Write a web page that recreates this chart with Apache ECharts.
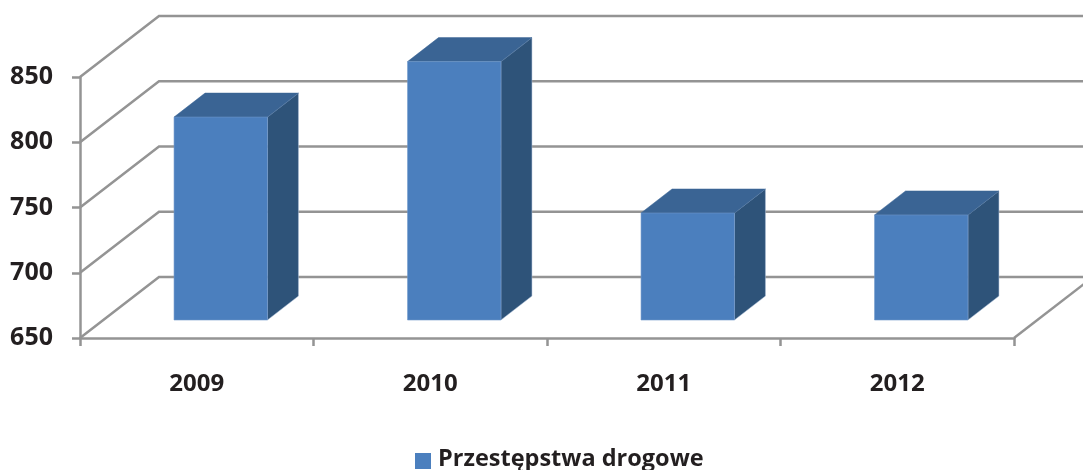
<!DOCTYPE html>
<html>
<head>
<meta charset="utf-8">
<style>html,body{margin:0;padding:0;background:#fff}#c{width:1083px;height:470px}</style>
<script src="https://cdn.jsdelivr.net/npm/echarts@6/dist/echarts.min.js"></script>
</head>
<body>
<div id="c"></div>
<script>
const categories = ['2009', '2010', '2011', '2012'];
const crimeValues = [805.5, 848, 732, 730.5];
const yTicks = [650, 700, 750, 800, 850];
const seriesName = 'Przestępstwa drogowe';

const WALL_DX = 79, WALL_DY = -61;
const BAR_DX = 24, BAR_DY = -18, SIDE_DX = 31, SIDE_DY = -24;
const BAR_WIDTH_RATIO = 0.4;
const LINE = '#949494';
const LINE_W = 2.5;
const FONT = '"Open Sans", sans-serif';

const chart = echarts.init(document.getElementById('c'), null, {renderer: 'canvas'});

function renderWall(params, api) {
  const cs = params.coordSys;
  const p = api.coord([0, api.value(0)]);
  const x0 = cs.x, y0 = p[1];
  const style = {stroke: LINE, lineWidth: LINE_W, fill: null};
  const children = [{
    type: 'polyline',
    shape: {points: [[x0, y0], [x0 + WALL_DX, y0 + WALL_DY], [x0 + cs.width + WALL_DX, y0 + WALL_DY]]},
    style: style
  }];
  if (params.dataIndex === 0) {
    children.push({
      type: 'line',
      shape: {x1: x0 + cs.width, y1: y0, x2: x0 + cs.width + WALL_DX, y2: y0 + WALL_DY},
      style: style
    });
  }
  return {type: 'group', children: children};
}

function renderBar(params, api) {
  const idx = api.value(0);
  const top = api.coord([idx, api.value(1)]);
  const base = api.coord([idx, yTicks[0]]);
  const w = api.size([1, 0])[0] * BAR_WIDTH_RATIO;
  const l = top[0] + BAR_DX - w / 2, r = l + w;
  const t = top[1] + BAR_DY, b = base[1] + BAR_DY;
  return {type: 'group', children: [
    {type: 'polygon',
     shape: {points: [[r, t], [r + SIDE_DX, t + SIDE_DY], [r + SIDE_DX, b + SIDE_DY], [r, b]]},
     style: {fill: '#2e5379', stroke: '#a9bdd6', lineWidth: 0.5}},
    {type: 'polygon',
     shape: {points: [[l, t], [l + SIDE_DX, t + SIDE_DY], [r + SIDE_DX, t + SIDE_DY], [r, t]]},
     style: {fill: '#3a6494', stroke: '#3a6494', lineWidth: 0.5}},
    {type: 'rect',
     shape: {x: l, y: t, width: w, height: b - t},
     style: {fill: '#4b7fbe', stroke: '#6f97c9', lineWidth: 0.6}}
  ]};
}

chart.setOption({
  animation: false,
  backgroundColor: '#fff',
  grid: {left: 80, right: 69, top: 77, bottom: 132, containLabel: false},
  legend: {
    data: [seriesName],
    left: 415, top: 447,
    icon: 'path://M0,0L0.01,0Z M0,4L16,4L16,20L0,20Z',
    itemWidth: 16, itemHeight: 20, itemGap: 0,
    padding: 0,
    textStyle: {fontFamily: FONT, fontWeight: 'bold', fontSize: 23.5, color: '#231f20', padding: [0, 0, 0, 2]}
  },
  xAxis: {
    type: 'category',
    data: categories,
    axisLine: {lineStyle: {color: LINE, width: LINE_W}},
    axisTick: {show: true, length: 8, lineStyle: {color: LINE, width: LINE_W}},
    axisLabel: {fontFamily: FONT, fontWeight: 'bold', fontSize: 24, color: '#231f20', margin: 34},
    splitLine: {show: false}
  },
  yAxis: {
    type: 'value',
    min: 650, max: 850, interval: 50,
    axisLine: {show: true, lineStyle: {color: LINE, width: LINE_W}},
    axisTick: {show: true, length: 8, lineStyle: {color: LINE, width: LINE_W}},
    axisLabel: {fontFamily: FONT, fontWeight: 'bold', fontSize: 25, color: '#231f20', margin: 27},
    splitLine: {show: false}
  },
  series: [
    {
      type: 'custom', name: 'wall', silent: true, clip: false, z: 1,
      renderItem: renderWall,
      data: yTicks.map(v => [v]),
      encode: {y: 0}
    },
    {
      type: 'custom', name: seriesName, clip: false, z: 3,
      itemStyle: {color: '#4b7fbe'},
      renderItem: renderBar,
      data: crimeValues.map((v, i) => [i, v]),
      encode: {x: 0, y: 1}
    }
  ]
});
</script>
</body>
</html>
